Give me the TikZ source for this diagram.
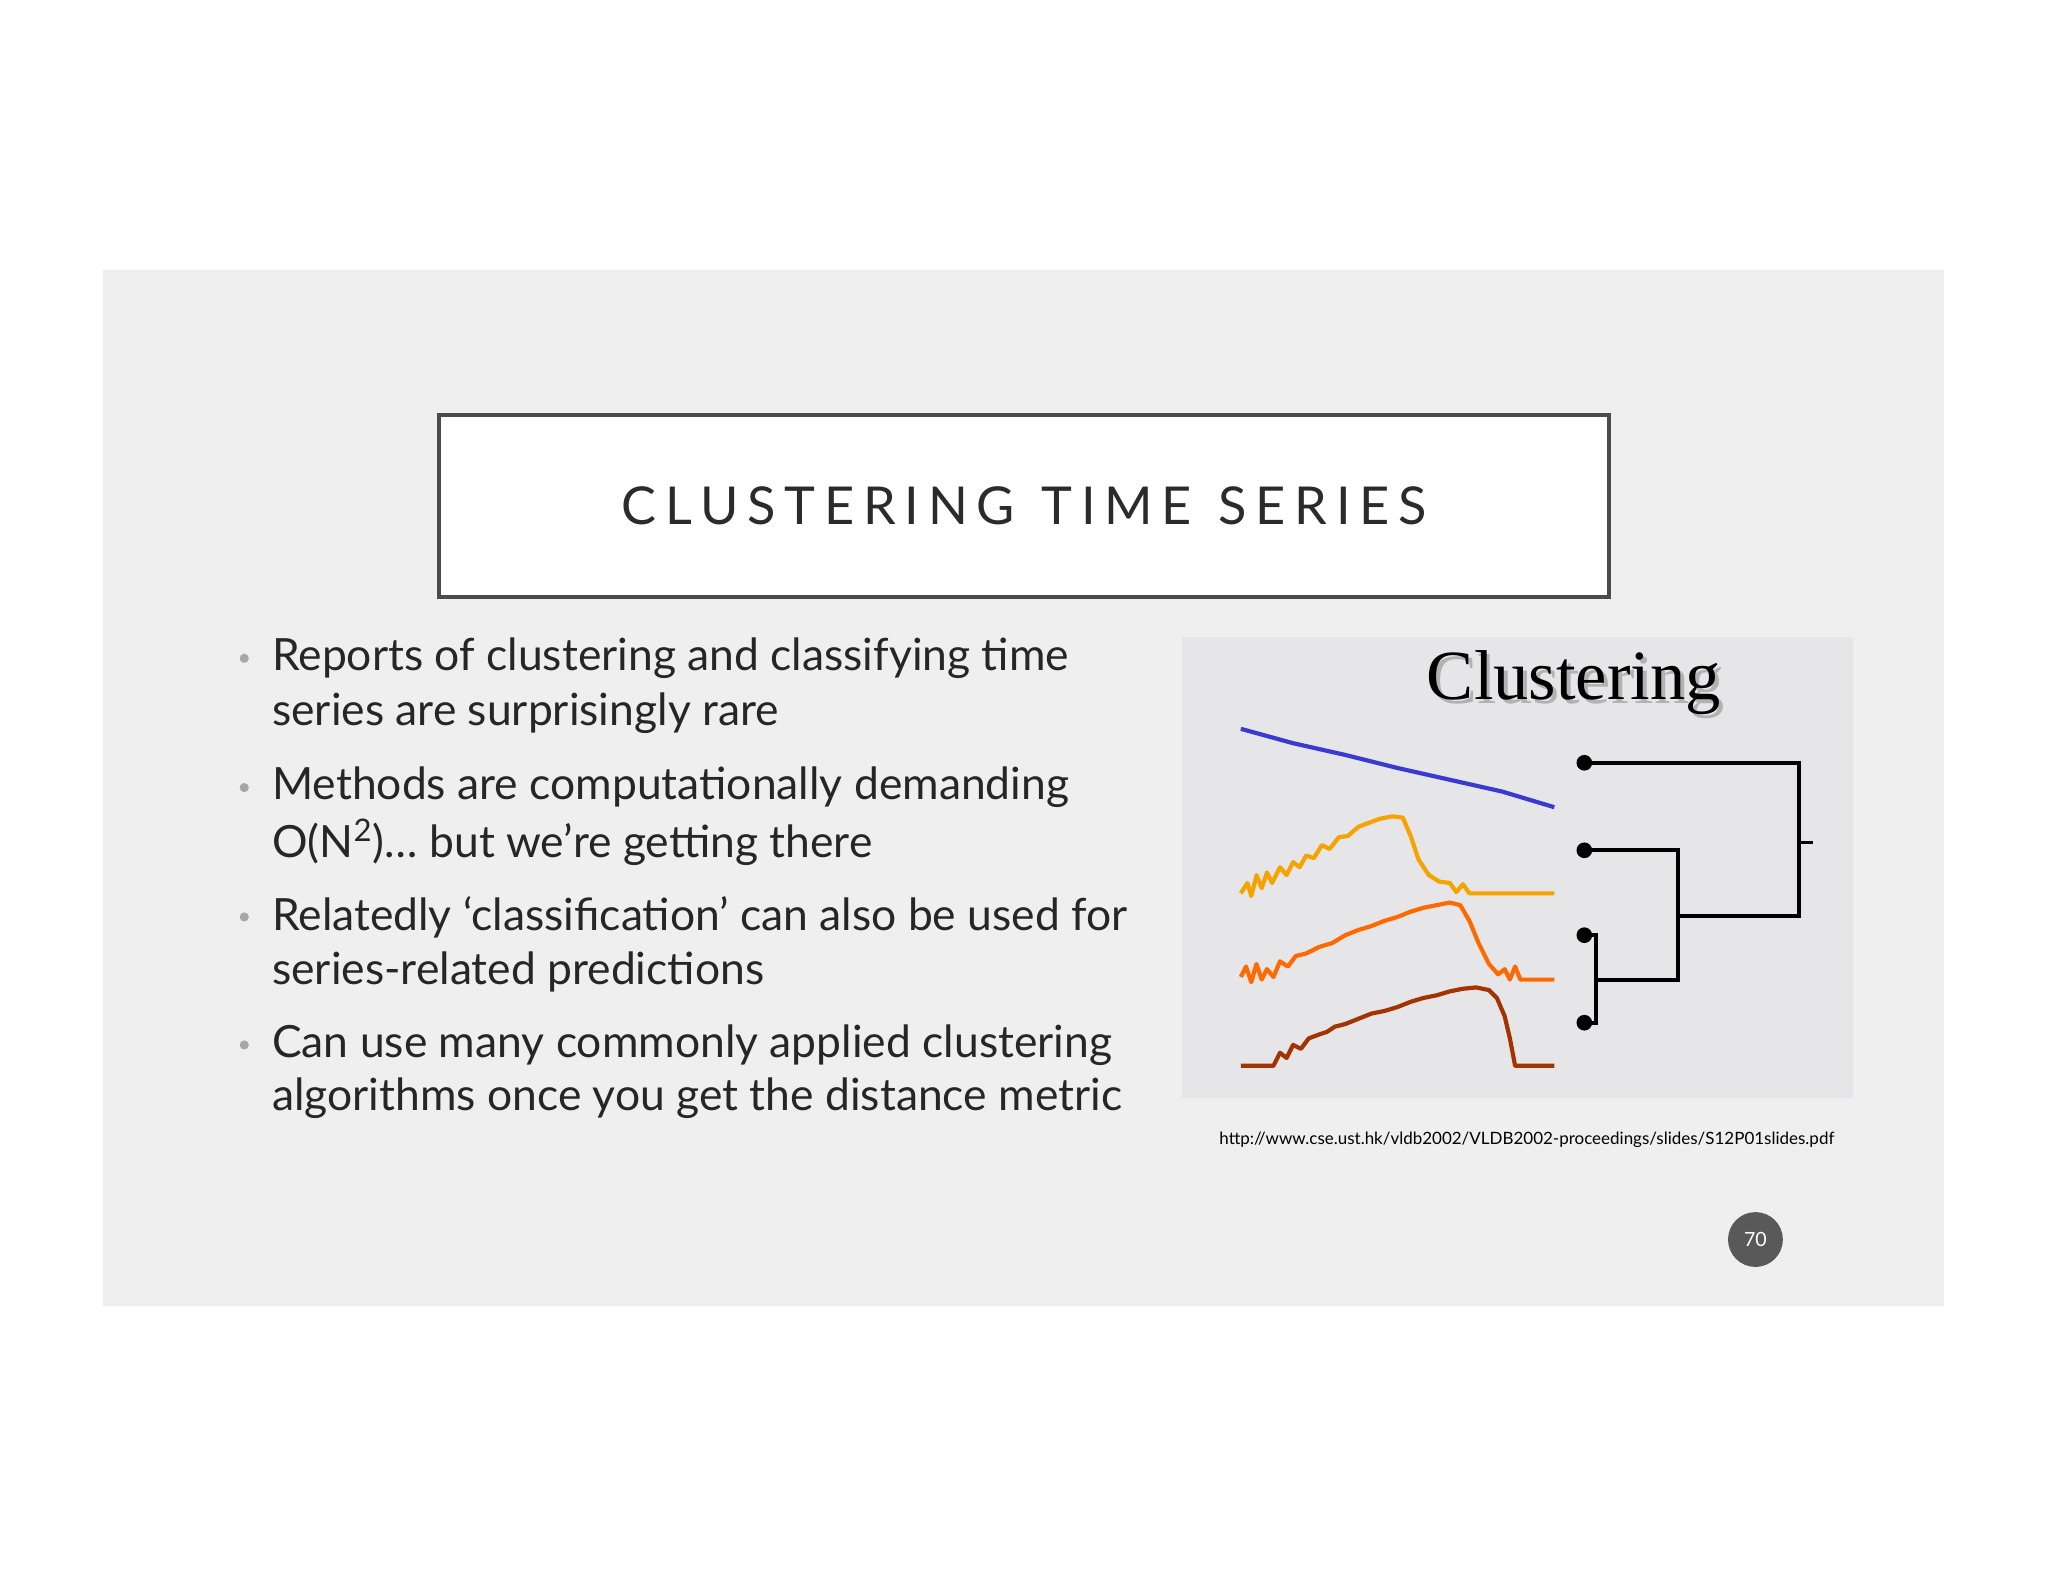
\documentclass[tikz,border=0pt]{standalone}
\usepackage{fontspec}
\setmainfont{Lato}
\newfontfamily\serifb{Liberation Serif}
\definecolor{slide}{HTML}{EFEFF0}
\definecolor{imgbg}{HTML}{E6E6E8}
\definecolor{ttl}{HTML}{2B2B2B}
\definecolor{cyel}{HTML}{F5A300}
\definecolor{corg}{HTML}{FF6A00}
\definecolor{cbrn}{HTML}{A33300}
\definecolor{cblu}{HTML}{3A3AD0}
\tikzset{
 bul/.style={anchor=west,font=\fontsize{17}{21}\selectfont,text=black!85,inner sep=0},
 dot/.style={circle,fill=gray!70,inner sep=0,minimum size=3.5pt},
 curve/.style={line width=1.6pt,line join=round},
 tree/.style={line width=1.5pt,black},
 leaf/.style={circle,fill=black,inner sep=0,minimum size=6pt}
}
\begin{document}
\begin{tikzpicture}[x=0.5pt,y=-0.5pt]
\useasboundingbox (0,0) rectangle (1568,1211);
\fill[white] (0,0) rectangle (1568,1211);
\fill[slide] (79,207) rectangle (1488,1000);
\node[draw=ttl!85,line width=1.6pt,fill=white,minimum width=448pt,minimum height=69.5pt] (title) at (784,387.5) {};
\node[font=\fontsize{20}{24}\selectfont,text=ttl] at (title) {C\,L\,U\,S\,T\,E\,R\,I\,N\,G\ \ T\,I\,M\,E\ \ S\,E\,R\,I\,E\,S};
% bullets
\foreach \y in {504,603,702,800} \node[dot] at (187,\y) {};
\node[bul] (b1) at (208,504) {Reports of clustering and classifying time};
\node[bul] at (208,546) {series are surprisingly rare};
\node[bul] at (208,603) {Methods are computationally demanding};
\node[bul] at (208,645) {O(N\textsuperscript{2})\ldots\ but we’re getting there};
\node[bul] at (208,702) {Relatedly ‘classification’ can also be used for};
\node[bul] at (208,744) {series-related predictions};
\node[bul] at (208,800) {Can use many commonly applied clustering};
\node[bul] at (208,841) {algorithms once you get the distance metric};
% image
\fill[imgbg] (905,488) rectangle (1419,841);
\node[font=\serifb\fontsize{27}{30}\selectfont,text=gray!60] at (1208,526) {Clustering};
\node[font=\serifb\fontsize{27}{30}\selectfont,text=black] at (1205,523) {Clustering};
\draw[cblu,curve] (950,558) -- (990,569) -- (1030,578) -- (1070,588) -- (1110,597) -- (1150,606) -- (1190,618);
\draw[cyel,curve] (950,684) -- (955,676) -- (958,686) -- (962,670) -- (966,680) -- (970,668) -- (974,676) -- (980,664) -- (985,670) -- (990,660) -- (995,664) -- (1000,655) -- (1006,657) -- (1012,647) -- (1018,650) -- (1025,641) -- (1032,640) -- (1040,633) -- (1048,630) -- (1056,627) -- (1066,625) -- (1074,626) -- (1080,640) -- (1086,658) -- (1094,670) -- (1102,675) -- (1110,676) -- (1115,683) -- (1120,677) -- (1125,684) -- (1190,684);
\draw[corg,curve] (950,748) -- (954,740) -- (958,752) -- (962,738) -- (966,750) -- (970,742) -- (975,748) -- (980,736) -- (986,740) -- (992,732) -- (1000,730) -- (1010,725) -- (1020,722) -- (1030,716) -- (1040,712) -- (1050,709) -- (1060,705) -- (1070,702) -- (1080,698) -- (1090,695) -- (1100,693) -- (1110,691) -- (1118,693) -- (1125,705) -- (1132,722) -- (1140,738) -- (1147,746) -- (1152,742) -- (1156,750) -- (1160,740) -- (1164,750) -- (1190,750);
\draw[cbrn,curve] (950,816) -- (975,816) -- (980,806) -- (985,810) -- (990,800) -- (996,803) -- (1002,795) -- (1010,792) -- (1016,790) -- (1022,786) -- (1030,784) -- (1040,780) -- (1050,776) -- (1060,774) -- (1070,771) -- (1080,767) -- (1090,764) -- (1100,762) -- (1110,759) -- (1120,757) -- (1130,756) -- (1140,758) -- (1146,764) -- (1152,778) -- (1156,795) -- (1160,816) -- (1190,816);
% dendrogram
\node[leaf] (l1) at (1213,584) {};
\node[leaf] (l2) at (1213,651) {};
\node[leaf] (l3) at (1213,716) {};
\node[leaf] (l4) at (1213,783) {};
\coordinate (j34) at (1285,750);
\coordinate (j234) at (1377,701);
\draw[tree] (l1.center) -- (1377,584) -- (1377,701) -- (1285,701);
\draw[tree] (1377,645) -- (1388,645);
\draw[tree] (l2.center) -- (1285,651) -- (1285,750) -- (1222,750);
\draw[tree] (l3.center) -- (1222,716) -- (1222,783) -- (l4.center);
\node[font=\fontsize{6.5}{8}\selectfont] at (1169,873) {http://www.cse.ust.hk/vldb2002/VLDB2002-proceedings/slides/S12P01slides.pdf};
\node[circle,fill=black!65,minimum size=21pt,inner sep=0,text=white,font=\fontsize{7.5}{9}\selectfont] (pg) at (1344,949) {70};
\end{tikzpicture}
\end{document}
